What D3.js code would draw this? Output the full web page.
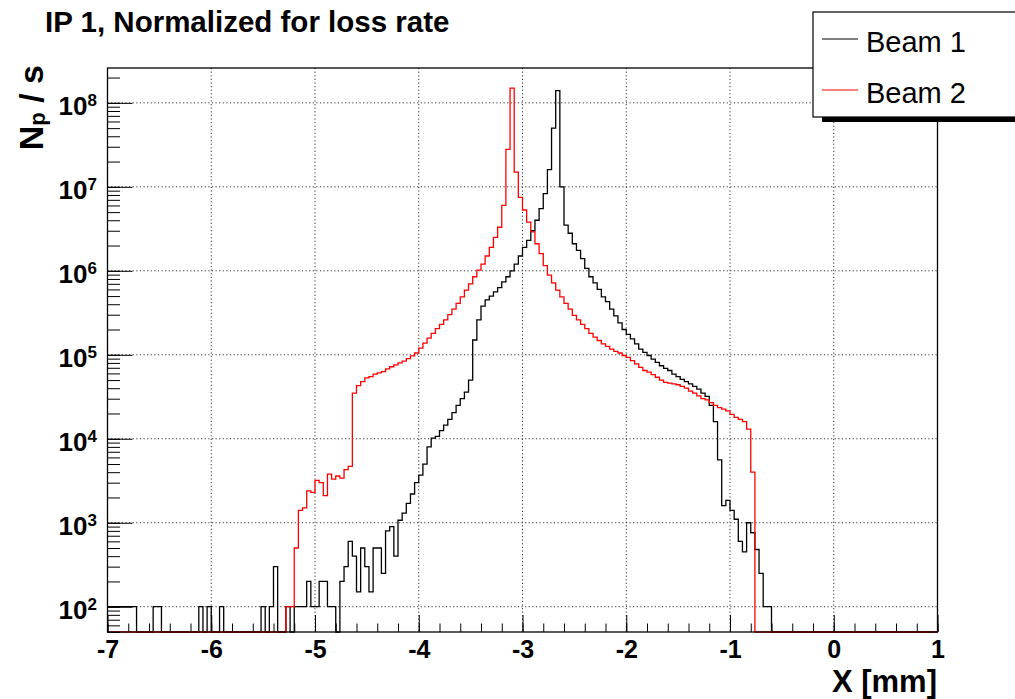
<!DOCTYPE html>
<html><head><meta charset="utf-8">
<script src="https://cdn.jsdelivr.net/npm/d3@7"></script>
<style>
html,body{margin:0;padding:0;background:#fff;}
text{font-family:"Liberation Sans",Arial,Helvetica,sans-serif;}
</style></head>
<body>
<svg id="c" width="1015" height="699"></svg>
<script>
// ---- data ----
const titleText = "IP 1, Normalized for loss rate";
const xTitle = "X [mm]";
const seriesNames = ["Beam 1", "Beam 2"];
const xTickValues = [-7, -6, -5, -4, -3, -2, -1, 0, 1];
const yDecades = [2, 3, 4, 5, 6, 7, 8];
const binStart = -7;
const binWidth = 0.04;

// Beam 1 (black), N_p / s per bin (0 = empty bin)
const beam1 = [
 100,100,100,100,100,100,100,0,0,0,
 0,100,100,0,0,0,0,0,0,0,
 0,0,100,0,100,0,0,100,0,0,
 0,0,0,0,0,0,0,100,0,100,
 300,0,0,100,0,100,100,100,200,100,
 100,200,200,100,100,0,200,300,600,400,
 150,500,300,150,500,500,250,800,900,400,
 1070,1300,1700,2200,3000,3700,5000,8000,10200,10700,
 12500,14500,17000,20500,25000,30000,36000,50000,1.5e5,2.6e5,
 3.8e5,4.5e5,5.0e5,5.6e5,6.3e5,7.4e5,8.5e5,1.0e6,1.2e6,1.5e6,
 1.9e6,2.3e6,3.0e6,4.0e6,5.5e6,8.3e6,1.6e7,5.0e7,1.4e8,1.0e7,
 3.5e6,2.8e6,2.1e6,1.75e6,1.4e6,1.07e6,8.5e5,7.2e5,6.0e5,4.9e5,
 4.3e5,3.5e5,2.9e5,2.4e5,2.0e5,1.75e5,1.55e5,1.35e5,1.17e5,1.07e5,
 9.8e4,8.9e4,8.1e4,7.4e4,6.9e4,6.5e4,5.9e4,5.5e4,5.1e4,4.8e4,
 4.5e4,4.2e4,3.9e4,3.5e4,3.2e4,2.5e4,1.6e4,5600,1600,1850,
 1400,1100,600,450,1000,760,480,250,100,100,
 0,0,0,0,0,0,0,0,0,0,
 0,0,0,0,0,0,0,0,0,0,
 0,0,0,0,0,0,0,0,0,0,
 0,0,0,0,0,0,0,0,0,0
];

// Beam 2 (red)
const beam2 = [
 0,0,0,0,0,0,0,0,0,0,
 0,0,0,0,0,0,0,0,0,0,
 0,0,0,0,0,0,0,0,0,0,
 0,0,0,0,0,0,0,0,0,0,
 0,0,0,100,100,500,1400,1500,2400,2300,
 3200,3000,2100,3800,3300,3600,3400,4300,4700,35000,
 43000,48000,53000,55000,59000,61000,63000,68000,72000,76000,
 80000,84000,90000,97000,1.05e5,1.2e5,1.38e5,1.58e5,1.8e5,2.05e5,
 2.3e5,2.6e5,3.0e5,3.5e5,4.1e5,4.9e5,5.9e5,7.0e5,8.5e5,1.02e6,
 1.2e6,1.5e6,1.9e6,2.5e6,3.3e6,6.0e6,2.8e7,1.5e8,1.5e7,7.5e6,
 5.3e6,3.8e6,2.9e6,2.1e6,1.6e6,1.15e6,8.9e5,7.2e5,5.9e5,4.9e5,
 4.1e5,3.5e5,2.95e5,2.6e5,2.3e5,2.05e5,1.8e5,1.62e5,1.48e5,1.35e5,
 1.26e5,1.17e5,1.1e5,1.05e5,9.8e4,9.3e4,8.5e4,7.8e4,7.1e4,6.5e4,
 6.2e4,5.8e4,5.4e4,5.0e4,4.7e4,4.6e4,4.5e4,4.4e4,4.2e4,4.0e4,
 3.7e4,3.5e4,3.25e4,3.0e4,2.9e4,2.7e4,2.5e4,2.35e4,2.25e4,2.15e4,
 1.95e4,1.8e4,1.7e4,1.6e4,1.3e4,4000,0,0,0,0,
 0,0,0,0,0,0,0,0,0,0,
 0,0,0,0,0,0,0,0,0,0,
 0,0,0,0,0,0,0,0,0,0,
 0,0,0,0,0,0,0,0,0,0
];
const seriesColors = ["#000000", "#ff0000"];

// ---- drawing ----
const svg = d3.select("#c");
const L = 107.5, R = 937.5, T = 68, B = 632;
const yMin = 50, yMax = 2.6e8;
const x = d3.scaleLinear().domain([-7, 1]).range([L, R]);
const y = d3.scaleLog().domain([yMin, yMax]).range([B, T]);

svg.append("rect").attr("width",1015).attr("height",699).attr("fill","#fff");

// grid
const grid = svg.append("g").attr("stroke","#333").attr("stroke-width",1).attr("stroke-dasharray","1.2,2.4");
xTickValues.filter(v => v > -7 && v < 1).forEach(v => {
  grid.append("line").attr("x1",x(v)).attr("x2",x(v)).attr("y1",T).attr("y2",B);
});
yDecades.forEach(d => {
  const yy = y(Math.pow(10,d));
  grid.append("line").attr("x1",L).attr("x2",R).attr("y1",yy).attr("y2",yy);
});

// histograms
function histPoints(vals){
  const pts = vals.map((v,i) => ({x: binStart + i*binWidth, v}));
  pts.push({x: binStart + vals.length*binWidth, v: vals[vals.length-1]});
  return pts;
}
const line = d3.line()
  .x(d => x(d.x))
  .y(d => y(Math.max(d.v, yMin)))
  .curve(d3.curveStepAfter);
[beam1, beam2].forEach((s, k) => {
  svg.append("path").attr("d", line(histPoints(s)))
    .attr("fill","none").attr("stroke",seriesColors[k]).attr("stroke-width",1.3);
});

// x axis
const xMinor = d3.range(-7, 1.0001, 0.2).map(v => Math.round(v*10)/10);
const xAxisMinor = d3.axisBottom(x).tickValues(xMinor).tickSize(-8.5).tickFormat("");
svg.append("g").attr("transform",`translate(0,${B})`).call(xAxisMinor)
  .call(g => g.select(".domain").remove());
const xAxis = d3.axisBottom(x).tickValues(xTickValues).tickSize(-17).tickPadding(8)
  .tickFormat(d3.format("d"));
const gx = svg.append("g").attr("transform",`translate(0,${B})`).call(xAxis);
gx.select(".domain").remove();
gx.selectAll("text").attr("font-size",25).attr("font-weight","bold")
  .attr("font-family","Liberation Sans, Arial, sans-serif").attr("fill","#000")
  .text(d => d < 0 ? "-" + Math.abs(d) : d);

// y axis
const yMinorVals = y.ticks().filter(v => v >= yMin && v <= yMax);
const yAxisMinor = d3.axisLeft(y).tickValues(yMinorVals).tickSize(-12.5).tickFormat("");
svg.append("g").attr("transform",`translate(${L},0)`).call(yAxisMinor)
  .call(g => g.select(".domain").remove());
const yAxis = d3.axisLeft(y).tickValues(yDecades.map(d => Math.pow(10,d))).tickSize(-25).tickFormat("");
svg.append("g").attr("transform",`translate(${L},0)`).call(yAxis)
  .call(g => g.select(".domain").remove());
const yl = svg.append("g").attr("font-weight","bold").attr("fill","#000");
yDecades.forEach(d => {
  const yy = y(Math.pow(10,d));
  const t = yl.append("text").attr("x",97).attr("y",yy+12).attr("text-anchor","end");
  t.append("tspan").attr("font-size",26).text("10");
  t.append("tspan").attr("font-size",17).attr("dy",-9).text(d);
});

// frame
svg.append("rect").attr("x",L).attr("y",T).attr("width",R-L).attr("height",B-T)
  .attr("fill","none").attr("stroke","#000").attr("stroke-width",1.3);

// titles
svg.append("text").attr("x",45).attr("y",32).attr("font-size",29.5).attr("font-weight","bold")
  .text(titleText);
svg.append("text").attr("x",937).attr("y",692).attr("text-anchor","end")
  .attr("font-size",31).attr("font-weight","bold").text(xTitle);
const yt = svg.append("text").attr("transform","translate(43,65) rotate(-90)")
  .attr("text-anchor","end").attr("font-weight","bold").attr("font-size",34);
yt.append("tspan").text("N");
yt.append("tspan").attr("font-size",22).attr("dy",2).text("p");
yt.append("tspan").attr("dy",-2).text(" / s");

// legend
svg.append("rect").attr("x",822).attr("y",117).attr("width",200).attr("height",5).attr("fill","#000");
svg.append("rect").attr("x",813).attr("y",12).attr("width",220).attr("height",105)
  .attr("fill","#fff").attr("stroke","#000").attr("stroke-width",1.2);
seriesNames.forEach((n,k) => {
  const yy = [39, 90][k];
  svg.append("line").attr("x1",822).attr("x2",858).attr("y1",yy).attr("y2",yy)
    .attr("stroke",seriesColors[k]).attr("stroke-width",1.2);
  svg.append("text").attr("x",866).attr("y",yy+13).attr("font-size",29).text(n);
});
</script>
</body></html>
